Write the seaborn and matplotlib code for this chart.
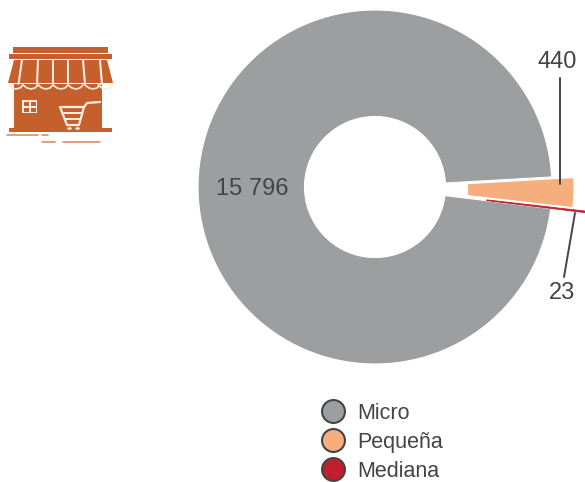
import matplotlib
matplotlib.use('Agg')
import matplotlib.pyplot as plt
from matplotlib.lines import Line2D
from matplotlib.patches import Polygon, Rectangle
import seaborn as sns

# Data
categories = ['Micro', 'Pequeña', 'Mediana']
values = [15796, 440, 23]
value_labels = ['15 796', '440', '23']
colors = ['#9D9E9F', '#F6AE7F', '#BE1E2D']
explode = [0, 22, 42]

sns.set_theme(style='white', palette=sns.color_palette(colors))
plt.rcParams['font.family'] = ['Liberation Sans', 'DejaVu Sans']

TEXT = '#444444'
ICON = '#C55F2B'
PALE = '#FBEDE4'

fig = plt.figure(figsize=(5.85, 4.82), dpi=100)
ax = fig.add_axes([0, 0, 1, 1])

# Donut, drawn clockwise so the small slices sit on the right
wedges, _ = ax.pie(values, explode=explode, colors=sns.color_palette(colors), startangle=353,
                   counterclock=False, radius=177, center=(375, 295), frame=True,
                   wedgeprops=dict(width=106.5, edgecolor='white', linewidth=0.8))
# the thin slice would vanish under a white edge
wedges[2].set_edgecolor(colors[2])
wedges[2].set_linewidth(0.6)
ax.set_xlim(0, 585)
ax.set_ylim(0, 482)
ax.axis('off')

# Overlay in pixel coordinates for labels, leaders and the icon
top = fig.add_axes([0, 0, 1, 1])
top.set_xlim(0, 585)
top.set_ylim(482, 0)
top.axis('off')
top.patch.set_alpha(0)

top.text(252, 189, value_labels[0], ha='center', va='center', fontsize=17, color=TEXT)
top.text(557, 62, value_labels[1], ha='center', va='center', fontsize=17, color=TEXT)
top.plot([560, 560], [78, 184], color=TEXT, lw=1.4)
top.text(562, 293, value_labels[2], ha='center', va='center', fontsize=17, color=TEXT)
top.plot([575, 564], [213, 277], color=TEXT, lw=1.4)

# Shop icon
def box(x0, y0, x1, y1, color=ICON, lw=0):
    top.add_patch(Rectangle((x0, y0), x1 - x0, y1 - y0, fc=color, ec=color, lw=lw))

def white_line(xs, ys, lw=1.0):
    top.plot(xs, ys, color=PALE, lw=lw, solid_capstyle='round')

box(13, 47, 108, 53)
box(9, 54, 112, 59)
top.add_patch(Polygon([(14, 60), (107, 60), (113, 83), (8, 83)], fc=ICON, ec='none'))
box(14, 84, 102, 129)
box(9, 128, 112, 132)
for top_x, bottom_x in [(22, 18.5), (38, 37), (53, 53), (68, 68), (83, 85), (100, 102)]:
    white_line([top_x, bottom_x], [60, 84], lw=1.5)
for x in [8, 23, 38, 53, 68, 85, 98]:
    white_line([x, x + 4, x + 8, x + 12, x + 15], [85, 88, 89, 88, 85], lw=1.2)
box(22, 100, 37, 113, color=PALE)
for x0, x1 in [(23.5, 29), (30.5, 35.5)]:
    for y0, y1 in [(101.5, 106), (107.5, 111.5)]:
        box(x0, y0, x1, y1)
white_line([60, 84, 79, 67, 60], [107, 107, 125, 125, 107], lw=1.6)
white_line([84, 87, 100], [107, 103, 102], lw=1.6)
white_line([64, 81], [113, 113], lw=1.4)
white_line([66, 80], [119, 119], lw=1.4)
white_line([68, 70], [128, 128], lw=1.8)
white_line([76, 78], [128, 128], lw=1.8)
for x0, x1, y in [(7, 38, 135), (42, 48, 135), (42, 55, 142), (63, 100, 142)]:
    top.plot([x0, x1], [y, y], color=ICON, lw=1.2, alpha=0.7)

# Legend with round markers
handles = [Line2D([], [], ls='none', marker='o', markersize=16.5, markerfacecolor=c,
                  markeredgecolor=TEXT, markeredgewidth=1.5) for c in colors]
top.legend(handles, categories, loc='upper left', bbox_to_anchor=(311 / 585, 1 - 403 / 482),
           frameon=False, fontsize=15.5, labelcolor=TEXT, handletextpad=0.15,
           labelspacing=0.37, borderpad=0, borderaxespad=0)

fig.savefig('out.png', dpi=100)
